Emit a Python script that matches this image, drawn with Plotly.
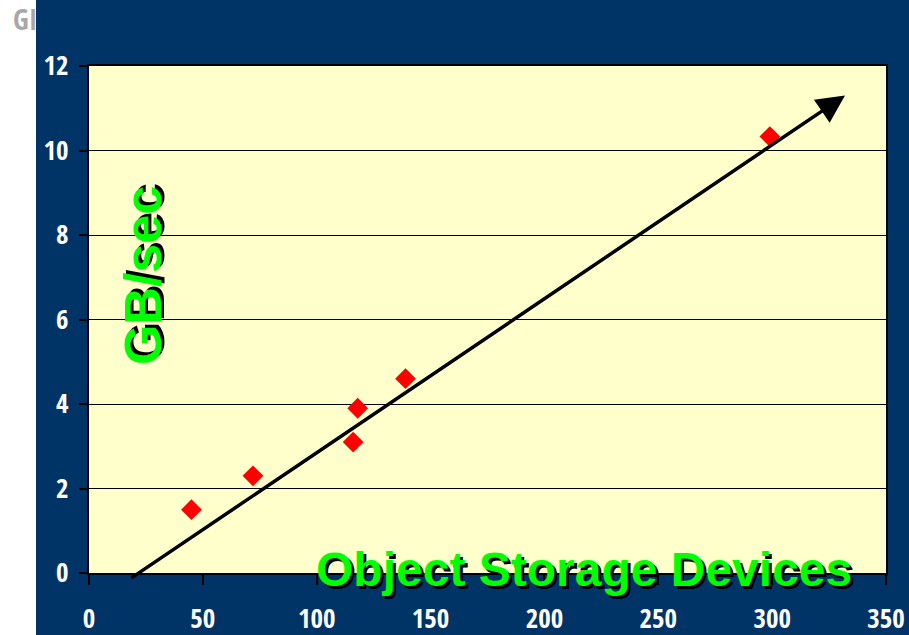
import plotly.graph_objects as go

# Data
osd_count = [45, 72, 116, 118, 139, 299]
gb_per_sec = [1.5, 2.3, 3.1, 3.9, 4.6, 10.33]

# Trend arrow endpoints (tail, head)
trend_x = [18, 332]
trend_y = [-0.14, 11.3]

x_ticks = [0, 50, 100, 150, 200, 250, 300, 350]
y_ticks = [0, 2, 4, 6, 8, 10, 12]

BLUE = "#003366"
YELLOW = "#FFFFCC"
GREEN = "#00FF00"

fig = go.Figure()
fig.add_trace(go.Scatter(
    x=osd_count, y=gb_per_sec, mode="markers",
    marker=dict(symbol="diamond", size=16, color="#FF0000", line=dict(width=0)),
    cliponaxis=False, showlegend=False, hoverinfo="x+y",
))

tick_font = dict(family="Open Sans Condensed, DejaVu Sans Condensed, Liberation Sans",
                 size=27, color="white", weight="bold")

fig.update_layout(
    width=909, height=635,
    margin=dict(l=89, r=23, t=66, b=62),
    paper_bgcolor=BLUE, plot_bgcolor=YELLOW,
    xaxis=dict(range=[0, 350], tickvals=x_ticks, showgrid=False, zeroline=False, automargin=False,
               showline=True, linecolor="black", linewidth=2, mirror=True,
               ticks="outside", ticklen=10, tickwidth=2, tickcolor="black",
               tickfont=tick_font, ticklabelstandoff=11),
    yaxis=dict(range=[0, 12], tickvals=y_ticks, showgrid=True, gridcolor="black", gridwidth=1.3,
               zeroline=False, showline=True, linecolor="black", linewidth=2, mirror=True, automargin=False,
               ticks="outside", ticklen=8, tickwidth=2, tickcolor="black",
               tickfont=tick_font, ticklabelstandoff=5),
    shapes=[dict(type="rect", xref="paper", yref="paper", x0=-0.2, x1=-0.0665, y0=-0.2, y1=1.2,
                 fillcolor="white", line=dict(width=0), layer="above")],
)

fig.add_annotation(x=trend_x[1], y=trend_y[1], ax=trend_x[0], ay=trend_y[0],
                   xref="x", yref="y", axref="x", ayref="y", text="",
                   showarrow=True, arrowhead=2, arrowwidth=3.5, arrowsize=1.6, arrowcolor="black")

fig.add_annotation(x=23.7, y=7.05, xref="x", yref="y", text="GB/sec", textangle=-90,
                   showarrow=False, xanchor="center", yanchor="middle",
                   font=dict(family="Liberation Sans, Arial", size=52, color=GREEN, weight="bold",
                             shadow="3px 3px 0px #000"))
fig.add_annotation(x=217.5, y=0.08, xref="x", yref="y", text="Object Storage Devices",
                   showarrow=False, xanchor="center", yanchor="middle",
                   font=dict(family="Liberation Sans, Arial", size=48, color=GREEN, weight="bold",
                             shadow="3px 3px 0px #000"))

fig.add_annotation(x=(39 - 89) / 797, y=(573 + 3) / 507, xref="paper", yref="paper", text="GI",
                   showarrow=False,
                   font=dict(family="Open Sans Condensed, DejaVu Sans Condensed", size=29, color="#A8A8A8"),
                   xanchor="right", yanchor="top")

fig.write_html("out.html")
